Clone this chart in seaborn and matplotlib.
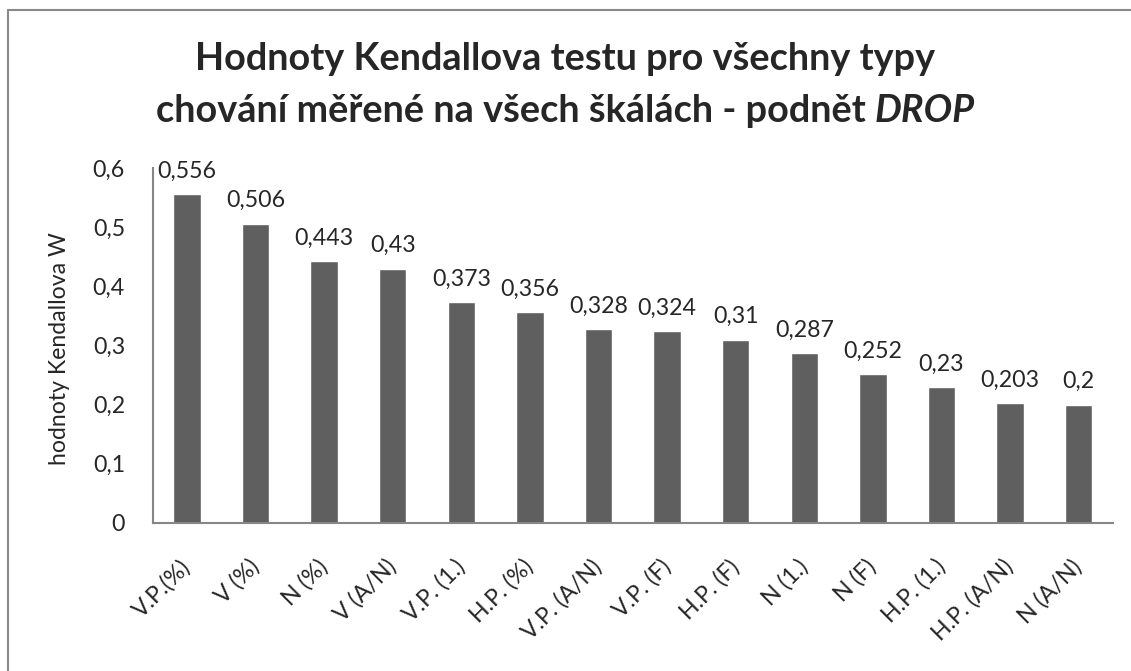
"""
Hodnoty Kendallova W pro všechny typy chování - podnět DROP.
"""

import matplotlib
matplotlib.use("Agg")
import matplotlib.pyplot as plt
import matplotlib.transforms as mtransforms
from matplotlib.lines import Line2D
from matplotlib.ticker import FixedLocator, FuncFormatter
import seaborn as sns  # type: ignore

typy = ["V.P.(%)", "V (%)", "N (%)", "V (A/N)", "V.P. (1.)", "H.P. (%)",
        "V.P. (A/N)", "V.P. (F)", "H.P. (F)", "N (1.)", "N (F)", "H.P. (1.)",
        "H.P. (A/N)", "N (A/N)"]
kendall_w = [0.556, 0.506, 0.443, 0.43, 0.373, 0.356, 0.328, 0.324, 0.31,
             0.287, 0.252, 0.23, 0.203, 0.2]

titulek_1 = "Hodnoty Kendallova testu pro všechny typy"
titulek_2 = "chování měřené na všech škálách - podnět "
titulek_2_kurziva = "DROP"


def carka(v):
    """Desetinná čárka místo tečky."""
    return f"{v:g}".replace(".", ",")


def velikost(fig, text, sirka_px, **kw):
    """Velikost písma, při které má text danou šířku v pixelech."""
    t = fig.text(0, 0, text, fontsize=20, **kw)
    w = t.get_window_extent(fig.canvas.get_renderer()).width
    t.remove()
    return 20 * sirka_px / w


def main():
    sns.set_style("white")
    plt.rcParams["font.family"] = ["Lato", "DejaVu Sans"]

    fig = plt.figure(figsize=(11.31, 6.71), dpi=100)
    ax = fig.add_axes([0.1350, 0.2206, 0.849, 0.529])

    # velikosti písma podle šířek textů v předloze
    fs_hodnoty = velikost(fig, "0,556", 59)
    fs_osa = velikost(fig, "hodnoty Kendallova W", 232)
    fs_titulek = velikost(fig, titulek_1, 742, fontweight="bold")

    sns.barplot(x=typy, y=kendall_w, color="#5f5f5f", saturation=1,
                width=0.4, ax=ax)

    ax.set_xlim(-0.5, len(typy) - 0.5)
    ax.set_ylim(0, 0.6)
    ax.yaxis.set_major_locator(FixedLocator([0, 0.1, 0.2, 0.3, 0.4, 0.5, 0.6]))
    ax.yaxis.set_major_formatter(FuncFormatter(lambda v, _: carka(round(v, 1))))

    # popisky kategorií uprostřed, značky na hranicích (jako v Excelu)
    ax.set_xticks(range(len(typy)))
    ax.set_xticklabels(typy, rotation=45, ha="right", va="center",
                       rotation_mode="anchor", fontsize=fs_hodnoty)
    posun = mtransforms.ScaledTranslation(0.17, 0, fig.dpi_scale_trans)
    for lab in ax.get_xticklabels():
        lab.set_transform(lab.get_transform() + posun)
    ax.set_xticks([i - 0.5 for i in range(len(typy) + 1)], minor=True)
    ax.tick_params(axis="x", which="major", length=0, pad=29)
    ax.tick_params(axis="x", which="minor", length=6, width=1.5,
                   color="#868686", direction="out")
    ax.tick_params(axis="y", length=6, width=1.5, color="#868686",
                   direction="out", labelsize=fs_hodnoty, pad=14)

    for side in ["top", "right"]:
        ax.spines[side].set_visible(False)
    for side in ["left", "bottom"]:
        ax.spines[side].set_color("#868686")
        ax.spines[side].set_linewidth(1.5)

    ax.set_ylabel("hodnoty Kendallova W", fontsize=fs_osa)
    ax.yaxis.set_label_coords(-0.086, 0.49)
    ax.set_xlabel("")

    ax.bar_label(ax.containers[0], labels=[carka(v) for v in kendall_w],
                 padding=9, fontsize=fs_hodnoty)

    # titulek ve dvou řádcích, slovo DROP kurzívou
    fig.text(0.5, 1 - 70 / 671, titulek_1, ha="center", va="baseline",
             fontsize=fs_titulek, fontweight="bold")
    t2 = fig.text(0, 1 - 122 / 671, titulek_2, ha="left", va="baseline",
                  fontsize=fs_titulek, fontweight="bold")
    t3 = fig.text(0, 1 - 122 / 671, titulek_2_kurziva, ha="left",
                  va="baseline", fontsize=fs_titulek, fontweight="bold",
                  fontstyle="italic")
    fig.canvas.draw()
    r = fig.canvas.get_renderer()
    w2 = t2.get_window_extent(r).width
    w3 = t3.get_window_extent(r).width
    x0 = (fig.bbox.width - (w2 + w3)) / 2
    t2.set_x(x0 / fig.bbox.width)
    t3.set_x((x0 + w2) / fig.bbox.width)

    # rámeček grafu
    fig.add_artist(Line2D([8 / 1131, 8 / 1131], [0, 1 - 10 / 671],
                          transform=fig.transFigure, color="#8a8a8a", lw=1.5))
    fig.add_artist(Line2D([8 / 1131, 1], [1 - 10 / 671, 1 - 10 / 671],
                          transform=fig.transFigure, color="#8a8a8a", lw=1.5))

    fig.savefig("out.png", dpi=100)


if __name__ == "__main__":
    main()
